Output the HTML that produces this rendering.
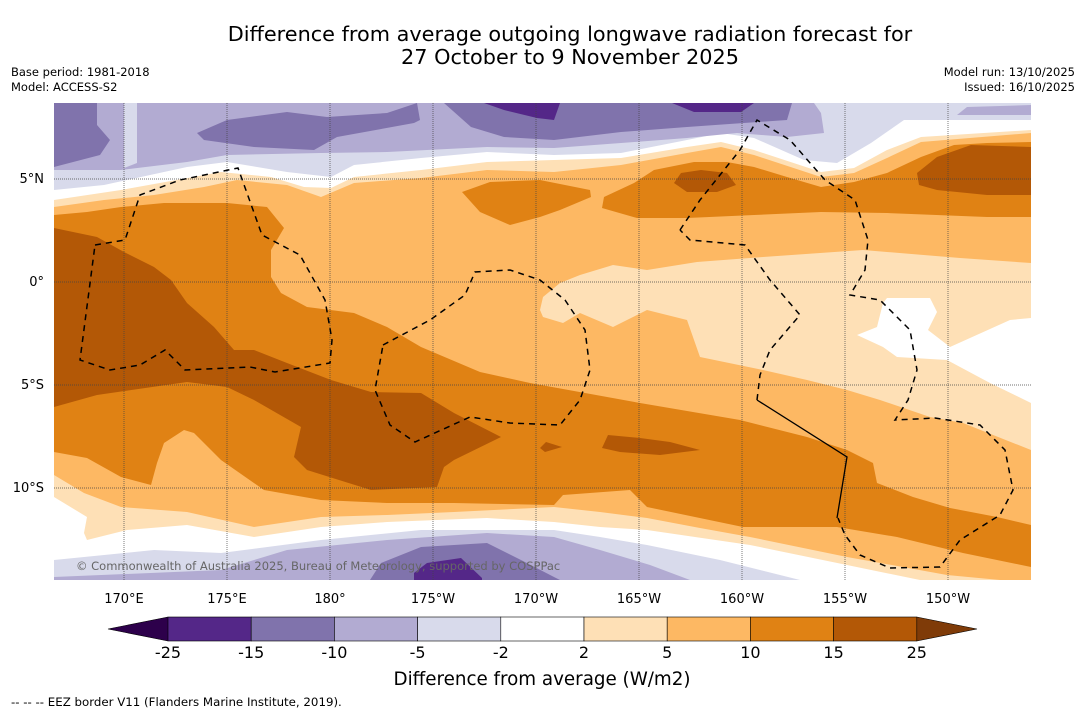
<!DOCTYPE html>
<html><head><meta charset="utf-8"><style>
body{margin:0;background:#fff;font-family:"DejaVu Sans",sans-serif;}
svg{display:block}
</style></head><body>
<svg width="1085" height="713" viewBox="0 0 1085 713" font-family="DejaVu Sans, sans-serif">
<g id="txt">
<text x="570" y="41" font-size="20.8" text-anchor="middle">Difference from average outgoing longwave radiation forecast for</text>
<text x="570" y="64" font-size="20.8" text-anchor="middle">27 October to 9 November 2025</text>
<text x="11" y="76" font-size="11.5">Base period: 1981-2018</text>
<text x="11" y="91" font-size="11.5">Model: ACCESS-S2</text>
<text x="1075" y="76" font-size="11.5" text-anchor="end">Model run: 13/10/2025</text>
<text x="1075" y="91" font-size="11.5" text-anchor="end">Issued: 16/10/2025</text>
</g>
<defs><clipPath id="mc"><rect x="54" y="103" width="977" height="477"/></clipPath></defs>
<g id="map" clip-path="url(#mc)"></g>
<g id="axes"></g>
<g id="cbar"></g>
<text x="542" y="685" font-size="18.3" text-anchor="middle">Difference from average (W/m2)</text>
<text x="11" y="706" font-size="11.8">--  --  -- EEZ border V11 (Flanders Marine Institute, 2019).</text>
</svg>
<script>
const lonTicks=[170,175,180,185,190,195,200,205,210];
const lonLabels=["170°E","175°E","180°","175°W","170°W","165°W","160°W","155°W","150°W"];
const latTicks=[5,0,-5,-10];
const latLabels=["5°N","0°","5°S","10°S"];
const levels=[-25,-15,-10,-5,-2,2,5,10,15,25];
const levelColors=["#542788","#8073ac","#b2abd2","#d8daeb","#ffffff","#fee0b6","#fdb863","#e08214","#b35806"];
const lowColor="#2d004b", highColor="#7f3b08";
const X=lon=>124+(lon-170)*20.6;
const Y=lat=>282-lat*20.6;
const NS="http://www.w3.org/2000/svg";
function mk(tag,attrs,parent){const e=document.createElementNS(NS,tag);for(const k in attrs)e.setAttribute(k,attrs[k]);parent.appendChild(e);return e;}
const map=document.getElementById('map');
const C={p25:"#542788",p15:"#8073ac",p10:"#b2abd2",p5:"#d8daeb",w:"#ffffff",o2:"#fee0b6",o5:"#fdb863",o10:"#e08214",o15:"#b35806"};
const P=pts=>pts.map(p=>p.join(',')).join(' L');
const T=pts=>"M54,103 L"+P(pts)+" L1031,103 Z";
const B=pts=>"M54,580 L"+P(pts)+" L1031,580 Z";
const Z=pts=>"M"+P(pts)+"Z";
const shapes=[
["field-5-10","o5","M54,103H1031V580H54Z"],
["band-10-15-main","o10",Z([[54,215],[87,212],[121,207],[164,203],[227,203],[267,207],[284,228],[271,250],[271,277],[281,293],[307,307],[354,313],[387,327],[421,347],[480,372],[530,383],[640,403],[740,420],[807,437],[847,450],[873,463],[877,483],[913,497],[950,508],[997,517],[1031,525],[1031,567],[963,553],[897,537],[837,527],[743,527],[647,507],[630,490],[563,495],[554,505],[454,503],[387,503],[321,500],[264,490],[221,460],[194,433],[184,430],[164,443],[157,463],[151,485],[121,477],[87,458],[54,452]])],
["band-15-25-west","o15",Z([[54,228],[97,237],[124,252],[154,267],[171,280],[187,303],[214,327],[234,350],[254,350],[287,363],[331,380],[371,392],[421,393],[454,413],[501,437],[454,460],[444,467],[437,487],[371,490],[307,470],[294,457],[301,427],[254,400],[227,387],[187,382],[97,395],[54,407]])],
["patch-15-25-a","o15",Z([[602,448],[608,435],[640,438],[670,442],[700,450],[660,455],[620,452]])],
["patch-15-25-b","o15",Z([[540,448],[546,442],[562,447],[545,452]])],
["blob-10-15-north","o10",Z([[462,192],[490,182],[540,180],[590,190],[591,197],[560,210],[540,217],[510,225],[480,212]])],
["band-10-15-ne","o10",Z([[602,208],[604,197],[634,183],[654,170],[694,162],[727,162],[754,167],[787,177],[821,187],[854,182],[887,173],[921,157],[954,145],[987,143],[1031,142],[1031,217],[987,217],[887,213],[821,212],[754,215],[687,218],[637,218]])],
["patch-15-25-c","o15",Z([[674,183],[681,173],[701,170],[727,173],[736,185],[717,192],[687,192]])],
["patch-15-25-ne","o15",Z([[917,173],[937,157],[971,145],[1031,147],[1031,195],[987,195],[937,190],[919,185]])],
["region-2-5-east","o2",Z([[540,310],[543,297],[560,283],[580,275],[613,265],[647,270],[697,262],[763,257],[863,250],[960,258],[1031,263],[1031,450],[963,423],[930,417],[880,400],[847,390],[807,380],[763,370],[700,357],[687,320],[647,310],[613,327],[580,313],[563,323],[543,317]])],
["region-white-east","w",Z([[887,298],[930,298],[937,312],[928,330],[950,347],[1010,320],[1031,318],[1031,403],[990,383],[947,360],[897,357],[883,347],[857,335],[877,327],[883,303]])],
["north-2-5","o2",T([[54,207],[104,200],[154,195],[204,187],[237,180],[287,185],[321,197],[354,183],[421,178],[487,170],[554,172],[621,165],[687,153],[721,147],[754,155],[821,177],[854,173],[887,158],[921,142],[1031,133]])],
["north-white","w",T([[54,200],[121,190],[221,172],[271,177],[304,187],[331,188],[354,177],[421,170],[487,162],[554,160],[621,158],[687,147],[721,142],[754,150],[821,172],[854,168],[887,150],[921,137],[1031,130]])],
["north-m2-m5","p5",T([[54,190],[104,185],[187,167],[227,162],[287,172],[331,177],[354,165],[421,158],[487,152],[554,155],[621,153],[687,140],[721,133],[754,138],[804,160],[837,163],[871,143],[904,120],[1031,120]])],
["north-m5-m10","p10",T([[54,170],[121,170],[187,162],[227,155],[321,153],[387,152],[487,147],[554,148],[621,143],[687,138],[737,133],[787,137],[824,133],[821,113],[814,103]])],
["north-column-m5","p5",Z([[124,103],[137,103],[137,163],[124,168]])],
["north-m10-ne","p10",Z([[957,115],[967,107],[1031,105],[1031,115]])],
["north-m15-a","p15",Z([[54,103],[97,103],[97,125],[110,140],[100,155],[54,167]])],
["north-m15-b","p15",Z([[197,133],[227,120],[287,112],[327,117],[387,113],[417,103],[420,120],[414,123],[337,137],[314,150],[254,147],[204,140]])],
["north-m15-c","p15",Z([[444,103],[471,127],[504,137],[554,140],[621,132],[687,127],[787,120],[792,103]])],
["north-m25-a","p25",Z([[484,103],[504,110],[537,118],[554,120],[560,103]])],
["north-m25-b","p25",Z([[672,103],[694,112],[741,112],[754,103]])],
["south-2-5","o2",B([[54,475],[84,493],[121,507],[187,512],[254,527],[321,517],[387,515],[454,512],[554,507],[600,512],[647,518],[700,528],[750,537],[847,557],[947,575],[1000,580]])],
["south-white","w",B([[54,497],[87,517],[84,533],[87,540],[127,530],[187,525],[254,537],[321,527],[387,522],[487,518],[554,522],[600,527],[647,530],[750,545],[847,565],[920,580]])],
["south-m2-m5","p5",B([[54,560],[154,550],[221,553],[321,540],[421,530],[554,530],[600,537],[647,545],[720,560],[800,580]])],
["south-m5-m10","p10",B([[54,577],[221,570],[287,550],[387,540],[487,533],[554,537],[600,550],[650,565],[690,580]])],
["south-m10-m15","p15",Z([[370,580],[381,563],[421,547],[487,543],[521,560],[554,577],[560,580]])],
["south-m15-m25","p25",Z([[414,580],[414,573],[427,563],[461,558],[482,578],[482,580]])]
];
shapes.forEach(s=>{const e=mk('path',{d:s[2],fill:C[s[1]]},map);

});
lonTicks.forEach(l=>{const g=mk('line',{x1:X(l),x2:X(l),y1:103,y2:580,stroke:'#444','stroke-width':0.7,'stroke-dasharray':'1,1'},map);

});
latTicks.forEach(l=>{const g=mk('line',{x1:54,x2:1031,y1:Y(l),y2:Y(l),stroke:'#444','stroke-width':0.7,'stroke-dasharray':'1,1'},map);

});
const eez=[
"M95,245 L125,240 L140,195 L180,180 L238,168 L262,235 L300,255 L325,300 L332,340 L330,363 L275,372 L250,367 L185,370 L165,350 L140,365 L110,370 L80,360 Z",
"M383,345 L430,320 L465,295 L475,272 L510,270 L540,280 L565,300 L585,330 L590,370 L580,400 L560,425 L510,423 L470,417 L415,442 L390,425 L375,390 Z",
"M680,230 L700,200 L740,150 L757,120 L790,140 L825,180 L855,200 L868,240 L865,270 L850,295 L880,300 L910,330 L917,370 L908,400 L895,420 L935,418 L980,425 L1005,450 L1013,490 L1000,515 L960,540 L940,567 L890,568 L860,555 L845,535 L838,518",
"M757,400 L760,375 L770,350 L800,315 L770,280 L745,245 L690,240 L680,230"
];
eez.forEach((d,i)=>{const e=mk('path',{d:d,fill:'none',stroke:'#000','stroke-width':1.5,'stroke-dasharray':'6,5'},map);

});
const sol=mk('path',{d:"M757,400 L847,457 L837,518",fill:'none',stroke:'#000','stroke-width':1.3},map);


const cp=mk('text',{x:76,y:570,'font-size':11.5,fill:'#666'},map);
cp.textContent="© Commonwealth of Australia 2025, Bureau of Meteorology, supported by COSPPac";


const ax=document.getElementById('axes');
lonTicks.forEach((l,i)=>{const t=mk('text',{x:X(l),y:603,'font-size':13,'text-anchor':'middle'},ax);t.textContent=lonLabels[i];

});
latTicks.forEach((l,i)=>{const t=mk('text',{x:44,y:Y(l)+4,'font-size':13,'text-anchor':'end'},ax);t.textContent=latLabels[i];

});
const cb=document.getElementById('cbar');
const cbX0=168,cbW=83.2,cbY=617,cbH=24;
const CB=i=>cbX0+i*cbW;
const la=mk('path',{d:`M${CB(0)},${cbY} L108,${cbY+cbH/2} L${CB(0)},${cbY+cbH}Z`,fill:lowColor},cb);


const ha=mk('path',{d:`M${CB(9)},${cbY} L977,${cbY+cbH/2} L${CB(9)},${cbY+cbH}Z`,fill:highColor},cb);


levelColors.forEach((c,i)=>{const r=mk('rect',{x:CB(i),y:cbY,width:cbW,height:cbH,fill:c,stroke:'#000','stroke-width':0.6},cb);

});
mk('path',{d:`M${CB(0)},${cbY} L108,${cbY+cbH/2} L${CB(0)},${cbY+cbH} M${CB(9)},${cbY} L977,${cbY+cbH/2} L${CB(9)},${cbY+cbH}`,fill:'none',stroke:'#000','stroke-width':0.6},cb);
levels.forEach((v,i)=>{const t=mk('text',{x:CB(i),y:658,'font-size':16,'text-anchor':'middle'},cb);t.textContent=v;

});
</script>
</body></html>
